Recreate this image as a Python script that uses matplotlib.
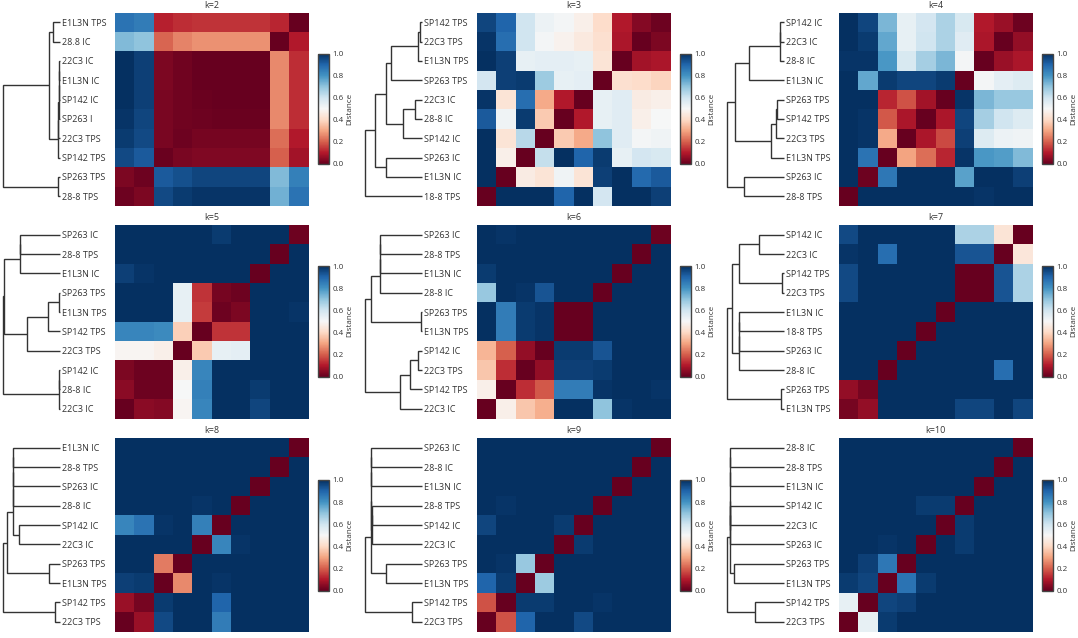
import matplotlib
matplotlib.use("Agg")
import matplotlib.pyplot as plt

plt.rcParams['font.family'] = ['Open Sans', 'DejaVu Sans']

W, H = 1078, 638
LINE = '#333333'
TEXT = '#333333'

titles = ['k=2', 'k=3', 'k=4', 'k=5', 'k=6', 'k=7', 'k=8', 'k=9', 'k=10']

labels_k2 = ['E1L3N TPS', '28.8 IC', '22C3 IC', 'E1L3N IC', 'SP142 IC', 'SP263 I', '22C3 TPS', 'SP142 TPS', 'SP263 TPS', '28-8 TPS']
labels_k3 = ['SP142 TPS', '22C3 TPS', 'E1L3N TPS', 'SP263 TPS', '22C3 IC', '28-8 IC', 'SP142 IC', 'SP263 IC', 'E1L3N IC', '18-8 TPS']
labels_k4 = ['SP142 IC', '22C3 IC', '28-8 IC', 'E1L3N IC', 'SP263 TPS', 'SP142 TPS', '22C3 TPS', 'E1L3N TPS', 'SP263 IC', '28-8 TPS']
labels_k5 = ['SP263 IC', '28-8 TPS', 'E1L3N IC', 'SP263 TPS', 'E1L3N TPS', 'SP142 TPS', '22C3 TPS', 'SP142 IC', '28-8 IC', '22C3 IC']
labels_k6 = ['SP263 IC', '28-8 TPS', 'E1L3N IC', '28-8 IC', 'SP263 TPS', 'E1L3N TPS', 'SP142 IC', '22C3 TPS', 'SP142 TPS', '22C3 IC']
labels_k7 = ['SP142 IC', '22C3 IC', 'SP142 TPS', '22C3 TPS', 'E1L3N IC', '18-8 TPS', 'SP263 IC', '28-8 IC', 'SP263 TPS', 'E1L3N TPS']
labels_k8 = ['E1L3N IC', '28-8 TPS', 'SP263 IC', '28-8 IC', 'SP142 IC', '22C3 IC', 'SP263 TPS', 'E1L3N TPS', 'SP142 TPS', '22C3 TPS']
labels_k9 = ['SP263 IC', '28-8 IC', 'E1L3N IC', '28-8 TPS', 'SP142 IC', '22C3 IC', 'SP263 TPS', 'E1L3N TPS', 'SP142 TPS', '22C3 TPS']
labels_k10 = ['28-8 IC', '28-8 TPS', 'E1L3N IC', 'SP142 IC', '22C3 IC', 'SP263 IC', 'SP263 TPS', 'E1L3N TPS', 'SP142 TPS', '22C3 TPS']

# Distance matrices, rows top to bottom, columns left to right
dist_k2 = [
    [.87, .85, .11, .13, .14, .14, .14, .14, .12, .00],
    [.72, .70, .21, .25, .27, .27, .27, .27, .00, .10],
    [1.0, .97, .03, .015, .00, .00, .00, .00, .26, .13],
    [1.0, .97, .03, .015, .00, .00, .00, .00, .26, .13],
    [1.0, .97, .025, .015, .005, .00, .00, .00, .26, .13],
    [.99, .96, .025, .015, .01, .005, .005, .005, .26, .13],
    [.98, .95, .025, .01, .02, .02, .02, .02, .22, .10],
    [.95, .92, .005, .025, .035, .035, .035, .035, .20, .08],
    [.03, .01, .92, .94, .96, .96, .96, .96, .72, .84],
    [.01, .03, .95, .98, .99, .99, .99, .99, .74, .87],
]
dist_k3 = [
    [.96, .90, .60, .53, .51, .47, .41, .10, .04, .01],
    [.99, .88, .60, .51, .48, .45, .42, .09, .00, .03],
    [1.0, .97, .54, .55, .55, .54, .43, .00, .08, .09],
    [.59, .97, .98, .68, .54, .55, .00, .42, .41, .39],
    [.99, .43, .88, .31, .10, .00, .54, .56, .46, .47],
    [.92, .52, .98, .37, .00, .10, .54, .56, .47, .50],
    [1.0, .43, .64, .00, .37, .31, .70, .56, .51, .52],
    [1.0, .47, .00, .62, 1.0, .90, .98, .54, .59, .58],
    [1.0, .00, .46, .43, .52, .43, .97, 1.0, .89, .92],
    [.00, 1.0, 1.0, 1.0, .90, 1.0, .59, 1.0, 1.0, .97],
]
dist_k4 = [
    [1.0, .96, .73, .54, .59, .66, .58, .10, .07, .01],
    [1.0, .98, .76, .54, .60, .66, .56, .09, .00, .06],
    [.99, .99, .79, .58, .67, .73, .51, .00, .07, .09],
    [1.0, .76, .98, .96, .96, .98, .00, .51, .55, .57],
    [1.0, 1.0, .12, .18, .08, .00, .99, .73, .69, .69],
    [1.0, .99, .19, .09, .00, .09, .96, .67, .60, .57],
    [1.0, .99, .31, .00, .09, .17, .97, .57, .53, .52],
    [1.0, .87, .00, .30, .22, .12, .99, .79, .78, .72],
    [1.0, .01, .86, 1.0, 1.0, 1.0, .77, 1.0, 1.0, .97],
    [.00, 1.0, 1.0, 1.0, 1.0, 1.0, 1.0, .99, 1.0, 1.0],
]
dist_k5 = [
    [1.0, 1.0, 1.0, 1.0, 1.0, .98, 1.0, 1.0, 1.0, .01],
    [1.0, 1.0, 1.0, 1.0, 1.0, 1.0, 1.0, 1.0, .00, 1.0],
    [.97, .99, 1.0, 1.0, 1.0, 1.0, 1.0, .00, 1.0, 1.0],
    [1.0, 1.0, 1.0, .54, .14, .02, .01, 1.0, 1.0, 1.0],
    [1.0, 1.0, 1.0, .54, .15, .01, .03, 1.0, 1.0, .99],
    [.83, .83, .82, .38, .00, .14, .14, 1.0, 1.0, 1.0],
    [.49, .49, .47, .00, .37, .54, .55, 1.0, 1.0, 1.0],
    [.03, .01, .01, .47, .83, 1.0, 1.0, 1.0, 1.0, 1.0],
    [.05, .01, .01, .50, .84, 1.0, 1.0, .98, 1.0, 1.0],
    [.00, .05, .04, .49, .83, 1.0, 1.0, .96, 1.0, 1.0],
]
dist_k6 = [
    [1.0, .99, 1.0, 1.0, 1.0, 1.0, 1.0, 1.0, 1.0, .01],
    [1.0, 1.0, 1.0, 1.0, 1.0, 1.0, 1.0, 1.0, .00, 1.0],
    [.98, 1.0, 1.0, 1.0, 1.0, 1.0, 1.0, .00, 1.0, 1.0],
    [.69, 1.0, .99, .93, 1.0, 1.0, .00, 1.0, 1.0, 1.0],
    [1.0, .85, .98, .99, .00, .00, 1.0, 1.0, 1.0, 1.0],
    [1.0, .85, .98, .99, .00, .00, 1.0, 1.0, 1.0, 1.0],
    [.33, .20, .06, .00, .98, .98, .93, 1.0, 1.0, 1.0],
    [.36, .13, .00, .06, .97, .97, .98, 1.0, 1.0, 1.0],
    [.47, .00, .13, .19, .85, .85, .99, 1.0, 1.0, .99],
    [.00, .47, .36, .32, 1.0, 1.0, .70, .99, 1.0, 1.0],
]
dist_k7 = [
    [.95, 1.0, 1.0, 1.0, 1.0, 1.0, .66, .66, .43, .00],
    [.99, 1.0, .88, 1.0, 1.0, 1.0, .93, .93, .00, .44],
    [.95, 1.0, 1.0, 1.0, 1.0, 1.0, .00, .00, .93, .66],
    [.95, 1.0, 1.0, 1.0, 1.0, 1.0, .00, .00, .93, .66],
    [1.0, 1.0, 1.0, 1.0, 1.0, .00, 1.0, 1.0, 1.0, 1.0],
    [1.0, 1.0, 1.0, 1.0, .00, 1.0, 1.0, 1.0, 1.0, 1.0],
    [1.0, 1.0, 1.0, .00, 1.0, 1.0, 1.0, 1.0, 1.0, 1.0],
    [1.0, 1.0, .00, 1.0, 1.0, 1.0, 1.0, 1.0, .88, 1.0],
    [.06, .02, 1.0, 1.0, 1.0, 1.0, 1.0, 1.0, 1.0, 1.0],
    [.02, .06, 1.0, 1.0, 1.0, 1.0, .96, .96, 1.0, .96],
]
dist_k8 = [
    [1.0, 1.0, 1.0, 1.0, 1.0, 1.0, 1.0, 1.0, 1.0, .00],
    [1.0, 1.0, 1.0, 1.0, 1.0, 1.0, 1.0, 1.0, .00, 1.0],
    [1.0, 1.0, 1.0, 1.0, 1.0, 1.0, 1.0, .00, 1.0, 1.0],
    [1.0, 1.0, 1.0, 1.0, .99, 1.0, .00, 1.0, 1.0, 1.0],
    [.83, .87, .99, 1.0, .84, .00, 1.0, 1.0, 1.0, 1.0],
    [1.0, 1.0, 1.0, 1.0, .00, .83, .99, 1.0, 1.0, 1.0],
    [1.0, 1.0, .24, .00, 1.0, 1.0, 1.0, 1.0, 1.0, 1.0],
    [.97, .98, .00, .26, 1.0, .99, 1.0, 1.0, 1.0, 1.0],
    [.07, .02, .98, 1.0, 1.0, .90, 1.0, 1.0, 1.0, 1.0],
    [.00, .07, .95, 1.0, 1.0, .85, 1.0, 1.0, 1.0, 1.0],
]
dist_k9 = [
    [1.0, 1.0, 1.0, 1.0, 1.0, 1.0, 1.0, 1.0, 1.0, .00],
    [1.0, 1.0, 1.0, 1.0, 1.0, 1.0, 1.0, 1.0, .00, 1.0],
    [1.0, 1.0, 1.0, 1.0, 1.0, 1.0, 1.0, .00, 1.0, 1.0],
    [1.0, .99, 1.0, 1.0, 1.0, 1.0, .00, 1.0, 1.0, 1.0],
    [.96, 1.0, 1.0, 1.0, .98, .00, 1.0, 1.0, 1.0, 1.0],
    [1.0, 1.0, 1.0, 1.0, .00, .98, 1.0, 1.0, 1.0, 1.0],
    [1.0, .99, .69, .00, 1.0, 1.0, 1.0, 1.0, 1.0, 1.0],
    [.90, .98, .00, .68, 1.0, 1.0, 1.0, 1.0, 1.0, 1.0],
    [.18, .00, .98, .98, 1.0, 1.0, .99, 1.0, 1.0, 1.0],
    [.00, .18, .90, 1.0, 1.0, .95, 1.0, 1.0, 1.0, 1.0],
]
dist_k10 = [
    [1.0, 1.0, 1.0, 1.0, 1.0, 1.0, 1.0, 1.0, 1.0, .00],
    [1.0, 1.0, 1.0, 1.0, 1.0, 1.0, 1.0, 1.0, .00, 1.0],
    [1.0, 1.0, 1.0, 1.0, 1.0, 1.0, 1.0, .00, 1.0, 1.0],
    [1.0, 1.0, 1.0, 1.0, .98, .98, .00, 1.0, 1.0, 1.0],
    [1.0, 1.0, 1.0, 1.0, 1.0, .00, .98, 1.0, 1.0, 1.0],
    [1.0, 1.0, .99, 1.0, .00, 1.0, .98, 1.0, 1.0, 1.0],
    [1.0, .97, .86, .00, 1.0, 1.0, 1.0, 1.0, 1.0, 1.0],
    [.98, .96, .00, .87, .98, 1.0, 1.0, 1.0, 1.0, 1.0],
    [.54, .00, .96, .97, 1.0, 1.0, 1.0, 1.0, 1.0, 1.0],
    [.00, .54, .98, 1.0, 1.0, 1.0, 1.0, 1.0, 1.0, 1.0],
]

# Dendrograms: (merge height, left child, right child); an int is a row
tree_k2 = (172, (33, (20, 0, 1), (5, (5, (4, (3, (2, 2, 3), 4), 5), 6), 7)), (5, 8, 9))
tree_k3 = (172, (140, (107, (92, (12, (5, 0, 1), 2), 3), (57, (22, 4, 5), 6)), (107, 7, 8)), 9)
tree_k4 = (170, (147, (105, (12, (11, 0, 1), 2), 3), (37, (23, (19, 4, 5), 6), 7)), (119, 8, 9))
tree_k5 = (172, (168, (120, (120, 0, 1), 2), (100, (35, (2, 3, 4), 5), 6)), (3, (2, 7, 8), 9))
tree_k6 = (172, (154, (125, (125, (125, 0, 1), 2), 3), (3, 4, 5)), (67, (35, (12, 6, 7), 8), 9))
tree_k7 = (170, (155, (135, (75, 0, 1), (5, 2, 3)), (135, (134, (134, 4, 5), 6), 7)), (7, 8, 9))
tree_k8 = (172, (160, (142, (142, (142, (142, 0, 1), 2), 3), (123, 4, 5)), (32, 6, 7)), (15, 8, 9))
tree_k9 = (172, (154, (152, (152, (152, 0, 1), 2), (150, (150, 3, 4), 5)), (107, 6, 7)), (29, 8, 9))
tree_k10 = (170, (162, (161, (161, (161, 0, 1), 2), (161, (161, 3, 4), 5)), (149, 6, 7)), (87, 8, 9))

distances = [dist_k2, dist_k3, dist_k4, dist_k5, dist_k6, dist_k7, dist_k8, dist_k9, dist_k10]
trees = [tree_k2, tree_k3, tree_k4, tree_k5, tree_k6, tree_k7, tree_k8, tree_k9, tree_k10]
row_labels = [labels_k2, labels_k3, labels_k4, labels_k5, labels_k6, labels_k7, labels_k8, labels_k9, labels_k10]
cbar_ticks = [0.0, 0.2, 0.4, 0.6, 0.8, 1.0]

# Layout in figure pixels
heat_lefts = [115, 477, 839]
heat_tops = [12.5, 225, 438]
heat_size = 193.5
leaf_ends = [60, 422, 783.5]
cbar_lefts = [318, 680, 1042]
cbar_tops = [53.5, 266, 480]
cbar_w, cbar_h = 11, 110.5


def add_axes(left, top, width, height):
    return fig.add_axes([left / W, 1 - (top + height) / H, width / W, height / H])


def draw_tree(ax, node):
    if isinstance(node, int):
        return 0, node + 0.5
    height, first, second = node
    h1, y1 = draw_tree(ax, first)
    h2, y2 = draw_tree(ax, second)
    ax.plot([h1, height, height, h2], [y1, y1, y2, y2], color=LINE, lw=1.0,
            solid_joinstyle='miter', solid_capstyle='butt', clip_on=False)
    return height, (y1 + y2) / 2


fig = plt.figure(figsize=(W / 100, H / 100), dpi=100, facecolor='white')

for i in range(9):
    row, col = divmod(i, 3)
    left, top = heat_lefts[col], heat_tops[row]

    ax = add_axes(left, top, heat_size, heat_size)
    mesh = ax.pcolormesh(distances[i], cmap='RdBu', vmin=0, vmax=1)
    ax.set_xlim(0, 10)
    ax.set_ylim(10, 0)
    ax.set_xticks([])
    ax.set_yticks([])
    for spine in ax.spines.values():
        spine.set_visible(False)
    ax.set_title(titles[i], fontsize=6.5, color=TEXT, pad=3.5)

    dax = add_axes(leaf_ends[col] - 60, top, 60, heat_size)
    draw_tree(dax, trees[i])
    dax.set_xlim(180, 0)
    dax.set_ylim(10, 0)
    dax.set_xticks([])
    dax.yaxis.tick_right()
    dax.set_yticks([j + 0.5 for j in range(10)], row_labels[i])
    dax.tick_params(axis='y', length=0, pad=1.5, labelsize=6.5, labelcolor=TEXT)
    for spine in dax.spines.values():
        spine.set_visible(False)
    dax.patch.set_alpha(0)

    cax = add_axes(cbar_lefts[col], cbar_tops[row], cbar_w, cbar_h)
    cb = fig.colorbar(mesh, cax=cax, ticks=cbar_ticks)
    cb.outline.set_edgecolor('#444444')
    cb.outline.set_linewidth(1.0)
    cax.tick_params(length=0, pad=2.5, labelsize=5.8, labelcolor=TEXT)
    cb.set_label('Distance', fontsize=5.8, color=TEXT, labelpad=1.5)

fig.savefig('out.png', dpi=100)
